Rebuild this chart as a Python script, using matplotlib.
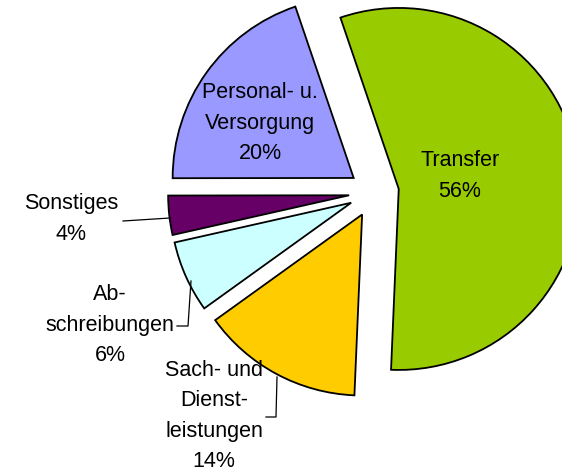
import matplotlib
matplotlib.use("Agg")
import matplotlib.pyplot as plt

categories = ["Transfer", "Sach- und\nDienst-\nleistungen", "Ab-\nschreibungen", "Sonstiges", "Personal- u.\nVersorgung"]
values = [55.9, 14.4, 6.4, 3.5, 19.8]
colors = ["#99CC00", "#FFCC00", "#CCFFFF", "#660066", "#9999FF"]

W, H = 562, 471
fig = plt.figure(figsize=(W / 100, H / 100), dpi=100)
ax = fig.add_axes([0, 0, 1, 1])

R = 181
cx, cy = 374, H - 192.5
ax.pie(values, colors=colors, startangle=108.8, counterclock=False,
       radius=R, center=(cx, cy), explode=[25] * len(values),
       wedgeprops=dict(edgecolor="black", linewidth=1.3), frame=False)
ax.set_xlim(0, W)
ax.set_ylim(0, H)
ax.set_aspect("equal")
ax.axis("off")

labels = [f"{c}\n{round(v)}%" for c, v in zip(categories, values)]
pos = [(460, 176), (214, 416), (110, 325), (71, 219), (260, 123)]
font = dict(family="Liberation Sans", fontsize=15.5, color="black",
            ha="center", va="center", linespacing=1.6)
for lab, (x, y) in zip(labels, pos):
    ax.text(x, H - y, lab, **font)

# leader lines
lc = dict(color="black", linewidth=0.9)
ax.plot([123, 170], [H - 221, H - 218], **lc)
ax.plot([177, 188, 191], [H - 326, H - 326, H - 281], **lc)
ax.plot([266, 276, 277], [H - 417, H - 417, H - 377], **lc)

fig.savefig("out.png", dpi=100)
